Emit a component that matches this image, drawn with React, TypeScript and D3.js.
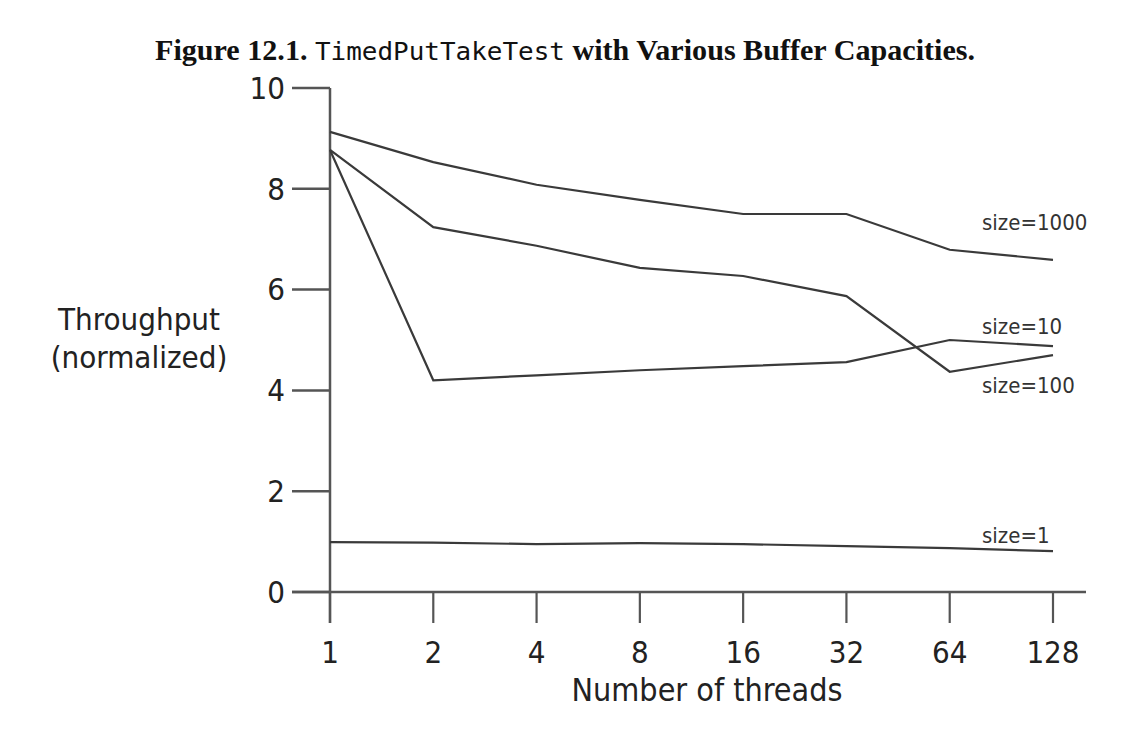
import React from "react";
import * as d3 from "d3";

const threads = [1, 2, 4, 8, 16, 32, 64, 128];
const yTicks = [0, 2, 4, 6, 8, 10];

const size1000 = [9.13, 8.53, 8.08, 7.78, 7.5, 7.5, 6.79, 6.59];
const size100 = [8.77, 7.24, 6.87, 6.43, 6.27, 5.87, 4.37, 4.7];
const size10 = [8.77, 4.2, 4.3, 4.4, 4.48, 4.56, 5.0, 4.88];
const size1 = [0.99, 0.98, 0.95, 0.97, 0.95, 0.91, 0.87, 0.81];

const seriesNames = ["size=1000", "size=100", "size=10", "size=1"];
const seriesValues = [size1000, size100, size10, size1];
// label vertical offset (px) relative to series' last point
const labelDy = [-38, 30, -20, -16];

const W = 1128;
const H = 736;
const FONT = "'Liberation Sans Narrow', 'DejaVu Sans Condensed', 'Open Sans', sans-serif";

export default function App() {
  const x = d3.scaleLog().base(2).domain([1, 128]).range([330, 1053]);
  const y = d3.scaleLinear().domain([0, 10]).range([592, 88]);
  const line = d3
    .line<number>()
    .x((_, i) => x(threads[i]))
    .y((d) => y(d));

  return (
    <svg
      width={W}
      height={H}
      style={{ position: "absolute", left: 0, top: 0, background: "#fff" }}
    >
      {/* Title */}
      <text
        x={565}
        y={60}
        textAnchor="middle"
        fontSize={29}
        fill="#111"
        textLength={820}
        lengthAdjust="spacingAndGlyphs"
      >
        <tspan fontFamily="'Liberation Serif', serif" fontWeight="bold">
          Figure 12.1.{" "}
        </tspan>
        <tspan fontFamily="'DejaVu Sans Mono', monospace" fontSize={25}>
          TimedPutTakeTest
        </tspan>
        <tspan fontFamily="'Liberation Serif', serif" fontWeight="bold">
          {" "}with Various Buffer Capacities.
        </tspan>
      </text>

      {/* Y axis */}
      <line x1={330} x2={330} y1={y(10)} y2={623} stroke="#555" strokeWidth={2.5} />
      {yTicks.map((t) => (
        <g key={t}>
          <line x1={292} x2={330} y1={y(t)} y2={y(t)} stroke="#555" strokeWidth={2.5} />
          <text
            x={285}
            y={y(t)}
            dy="0.35em"
            textAnchor="end"
            fontFamily={FONT}
            fontSize={31}
            fill="#222"
          >
            {t}
          </text>
        </g>
      ))}

      {/* X axis */}
      <line x1={292} x2={1086} y1={y(0)} y2={y(0)} stroke="#555" strokeWidth={2.5} />
      {threads.map((t) => (
        <g key={t}>
          <line x1={x(t)} x2={x(t)} y1={y(0)} y2={623} stroke="#555" strokeWidth={2.2} />
          <text
            x={x(t)}
            y={663}
            textAnchor="middle"
            fontFamily={FONT}
            fontSize={31}
            fill="#222"
          >
            {t}
          </text>
        </g>
      ))}
      <text
        x={707}
        y={701}
        textAnchor="middle"
        fontFamily={FONT}
        fontSize={32}
        fill="#222"
      >
        Number of threads
      </text>

      {/* Y title */}
      <text x={139} y={330} textAnchor="middle" fontFamily={FONT} fontSize={31} fill="#222">
        Throughput
      </text>
      <text x={139} y={368} textAnchor="middle" fontFamily={FONT} fontSize={31} fill="#222">
        (normalized)
      </text>

      {/* Series */}
      {seriesValues.map((vals, i) => (
        <g key={seriesNames[i]}>
          <path d={line(vals) ?? ""} fill="none" stroke="#3a3a3a" strokeWidth={2.2} />
          <text
            x={982}
            y={y(vals[vals.length - 1]) + labelDy[i]}
            dy="0.35em"
            fontFamily={FONT}
            fontSize={22}
            fill="#333"
          >
            {seriesNames[i]}
          </text>
        </g>
      ))}
    </svg>
  );
}
